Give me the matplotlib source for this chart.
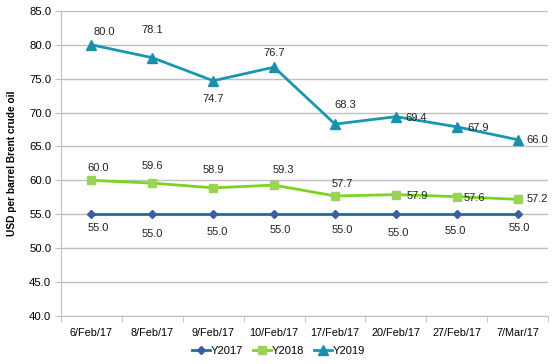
import numpy as np
import matplotlib
matplotlib.use('Agg')
import matplotlib.pyplot as plt

plt.rcParams['font.family'] = ['Liberation Sans', 'DejaVu Sans']

dates = ['6/Feb/17', '8/Feb/17', '9/Feb/17', '10/Feb/17', '17/Feb/17', '20/Feb/17', '27/Feb/17', '7/Mar/17']
y2017 = [55.0, 55.0, 55.0, 55.0, 55.0, 55.0, 55.0, 55.0]
y2018 = [60.0, 59.6, 58.9, 59.3, 57.7, 57.9, 57.6, 57.2]
y2019 = [80.0, 78.1, 74.7, 76.7, 68.3, 69.4, 67.9, 66.0]

# label offsets in pixels (dx, dy)
off2017 = [(7, -14), (0, -20), (4, -18), (6, -16), (7, -16), (2, -19), (-1, -17), (2, -14)]
off2018 = [(7, 12), (0, 17), (0, 18), (9, 15), (7, 12), (21, -1), (18, -1), (20, 0)]
off2019 = [(13, 13), (0, 28), (0, -18), (0, 14), (10, 19), (20, -1), (21, -1), (20, 0)]

fig = plt.figure(figsize=(5.57, 3.64), dpi=100)
ax = fig.add_axes([0.1095, 0.132, 0.8745, 0.838])

x = np.arange(len(dates))
ax.plot(x, y2017, color='#2B6A8C', lw=2, marker='D', ms=4, mfc='#3A5FA0', mec='#3A5FA0', label='Y2017', zorder=3)
ax.plot(x, y2018, color='#7ED321', lw=2, marker='s', ms=6, mfc='#9BD35A', mec='#9BD35A', label='Y2018', zorder=3)
ax.plot(x, y2019, color='#1A97B0', lw=2, marker='^', ms=7, mfc='#1A8FAA', mec='#1A8FAA', label='Y2019', zorder=3)

for vals, offs in [(y2017, off2017), (y2018, off2018), (y2019, off2019)]:
    for i, v in enumerate(vals):
        ax.annotate('%.1f' % v, (i, v), xytext=offs[i], textcoords='offset pixels',
                    ha='center', va='center', fontsize=8, color='#222222')

ax.set_xlim(-0.5, len(dates) - 0.5)
ax.set_ylim(40, 85)
ax.set_yticks(np.arange(40, 86, 5))
ax.set_yticklabels(['%.1f' % t for t in np.arange(40, 86, 5)], fontsize=8.2)
ax.set_xticks(x)
ax.set_xticklabels(dates, fontsize=7.8)
ax.set_xticks(np.arange(-0.5, len(dates), 1), minor=True)
ax.tick_params(axis='x', which='major', length=0, pad=9)
ax.tick_params(axis='x', which='minor', length=4, color='#BFBFBF')
ax.tick_params(axis='y', length=4, color='#BFBFBF', pad=3)
ax.grid(axis='y', color='#BFBFBF', lw=1)
ax.set_axisbelow(True)
for s in ['top', 'right']:
    ax.spines[s].set_visible(False)
for s in ['left', 'bottom']:
    ax.spines[s].set_color('#BFBFBF')

ax.set_ylabel('USD per barrel Brent crude oil', fontsize=7.3, fontweight='bold', labelpad=9)

fig.legend(loc='center', bbox_to_anchor=(0.5, 0.036), ncol=3, frameon=False, fontsize=8,
           handlelength=1.6, handletextpad=0.1, columnspacing=0.9)

fig.savefig('out.png', dpi=100)
